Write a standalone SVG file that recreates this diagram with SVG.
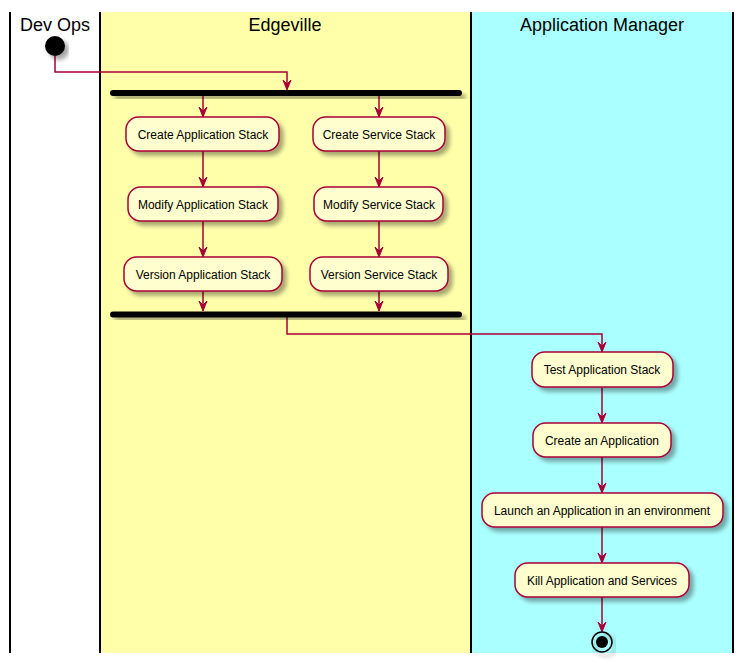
<svg xmlns="http://www.w3.org/2000/svg" width="743" height="663" viewBox="0 0 743 663">
<style>
.lane-line{stroke:#000;stroke-width:2;fill:none}
.title{font-family:"Liberation Sans",Arial,sans-serif;font-size:18px;fill:#000;text-anchor:middle}
.box{fill:#FEFECE;stroke:#A80036;stroke-width:1.5;filter:url(#sh)}
.lbl{font-family:"Liberation Sans",Arial,sans-serif;font-size:12px;fill:#000;text-anchor:middle}
.edge{stroke:#A80036;stroke-width:1.5;fill:none}
.head{fill:#A80036;stroke:#A80036;stroke-width:1}
.bar{fill:#000;filter:url(#sh)}
</style>
<defs>
<filter id="sh" x="-20%" y="-30%" width="140%" height="170%">
<feGaussianBlur in="SourceAlpha" stdDeviation="2" result="b"/>
<feOffset dx="4" dy="4" in="b" result="o"/>
<feComponentTransfer in="o" result="c"><feFuncA type="linear" slope="0.35"/></feComponentTransfer>
<feMerge><feMergeNode in="c"/><feMergeNode in="SourceGraphic"/></feMerge>
</filter>
</defs>
<rect x="0" y="0" width="743" height="663" fill="#fff"/>
<g id="lanes">
<rect x="100" y="12" width="371" height="641" fill="#FFFFAA"/>
<rect x="471" y="12" width="262" height="641" fill="#AAFFFF"/>
<line class="lane-line" x1="10" y1="12" x2="10" y2="653"/>
<line class="lane-line" x1="100" y1="12" x2="100" y2="653"/>
<line class="lane-line" x1="471" y1="12" x2="471" y2="653"/>
<line class="lane-line" x1="733" y1="12" x2="733" y2="653"/>
<text class="title" x="55" y="31">Dev Ops</text>
<text class="title" x="285" y="31">Edgeville</text>
<text class="title" x="602" y="31">Application Manager</text>
</g>
<g id="edges">
<polyline class="edge" points="55,56 55,72 287,72 287,89"/>
<polygon class="head" points="283,80 287,90 291,80 287,84"/>
<line class="edge" x1="203" y1="96" x2="203" y2="116"/>
<polygon class="head" points="199,107 203,117 207,107 203,111"/>
<line class="edge" x1="379" y1="96" x2="379" y2="116"/>
<polygon class="head" points="375,107 379,117 383,107 379,111"/>
<line class="edge" x1="203" y1="151" x2="203" y2="186"/>
<polygon class="head" points="199,177 203,187 207,177 203,181"/>
<line class="edge" x1="379" y1="151" x2="379" y2="186"/>
<polygon class="head" points="375,177 379,187 383,177 379,181"/>
<line class="edge" x1="203" y1="221" x2="203" y2="256"/>
<polygon class="head" points="199,247 203,257 207,247 203,251"/>
<line class="edge" x1="379" y1="221" x2="379" y2="256"/>
<polygon class="head" points="375,247 379,257 383,247 379,251"/>
<line class="edge" x1="203" y1="291" x2="203" y2="311"/>
<polygon class="head" points="199,301 203,311 207,301 203,305"/>
<line class="edge" x1="379" y1="291" x2="379" y2="311"/>
<polygon class="head" points="375,301 379,311 383,301 379,305"/>
<polyline class="edge" points="287,317 287,334 602,334 602,351"/>
<polygon class="head" points="598,342 602,352 606,342 602,346"/>
<line class="edge" x1="602" y1="388" x2="602" y2="422"/>
<polygon class="head" points="598,413 602,423 606,413 602,417"/>
<line class="edge" x1="602" y1="457" x2="602" y2="492"/>
<polygon class="head" points="598,483 602,493 606,483 602,487"/>
<line class="edge" x1="602" y1="527" x2="602" y2="562"/>
<polygon class="head" points="598,553 602,563 606,553 602,557"/>
<line class="edge" x1="602" y1="597" x2="602" y2="631"/>
<polygon class="head" points="598,622 602,632 606,622 602,626"/>
</g>
<g id="start"><circle cx="55" cy="46" r="10" fill="#000" filter="url(#sh)"/></g>
<g id="fork"><rect class="bar" x="110" y="90" width="352" height="6" rx="3"/></g>
<g id="create-app"><rect class="box" x="126" y="117" width="153" height="34" rx="12.5"/><text class="lbl" x="203" y="138.5">Create Application Stack</text></g>
<g id="create-svc"><rect class="box" x="313" y="117" width="132" height="34" rx="12.5"/><text class="lbl" x="379" y="138.5">Create Service Stack</text></g>
<g id="modify-app"><rect class="box" x="128" y="187" width="150" height="34" rx="12.5"/><text class="lbl" x="203" y="208.5">Modify Application Stack</text></g>
<g id="modify-svc"><rect class="box" x="314" y="187" width="129" height="34" rx="12.5"/><text class="lbl" x="379" y="208.5">Modify Service Stack</text></g>
<g id="version-app"><rect class="box" x="124" y="257" width="158" height="34" rx="12.5"/><text class="lbl" x="203" y="278.5">Version Application Stack</text></g>
<g id="version-svc"><rect class="box" x="310" y="257" width="138" height="34" rx="12.5"/><text class="lbl" x="379" y="278.5">Version Service Stack</text></g>
<g id="join"><rect class="bar" x="110" y="311.5" width="352" height="6" rx="3"/></g>
<g id="test-app"><rect class="box" x="532" y="352" width="141" height="35" rx="12.5"/><text class="lbl" x="602" y="374">Test Application Stack</text></g>
<g id="create-an-app"><rect class="box" x="533" y="423" width="138" height="34" rx="12.5"/><text class="lbl" x="602" y="444.5">Create an Application</text></g>
<g id="launch"><rect class="box" x="482" y="493" width="241" height="34" rx="12.5"/><text class="lbl" x="602" y="514.5">Launch an Application in an environment</text></g>
<g id="kill"><rect class="box" x="515" y="563" width="174" height="34" rx="12.5"/><text class="lbl" x="602" y="584.5">Kill Application and Services</text></g>
<g id="end"><circle cx="602" cy="642" r="10" fill="none" stroke="#000" stroke-width="1.5" filter="url(#sh)"/><circle cx="602" cy="642" r="6" fill="#000"/></g>
</svg>
